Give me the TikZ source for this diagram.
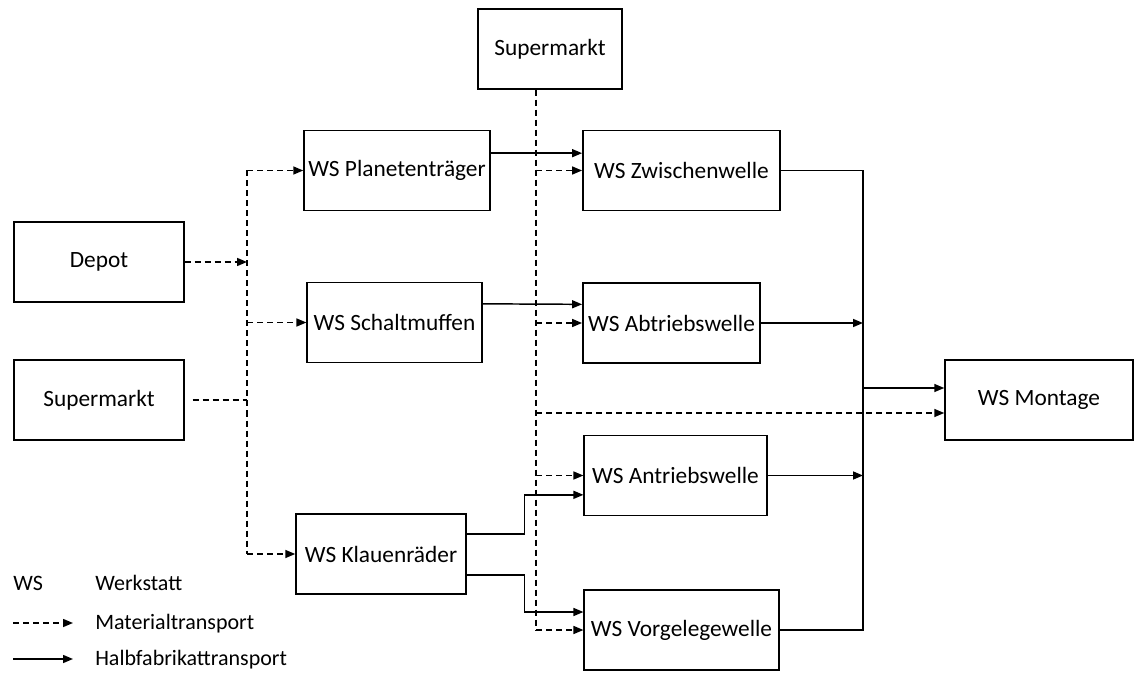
\documentclass[tikz,border=0pt]{standalone}
\usepackage{fontspec}
\setmainfont{Carlito}
\usetikzlibrary{arrows.meta,positioning}

\begin{document}
\begin{tikzpicture}[x=0.75pt, y=-0.75pt,
		box/.style={draw, line width=1.1pt, minimum height=60pt, inner sep=2pt, font=\fontsize{17.5}{20}\selectfont},
		legtext/.style={anchor=west, inner sep=0pt, font=\fontsize{16.5}{19}\selectfont},
		matline/.style={line width=1.1pt, dash pattern=on 4.5pt off 3pt},
		mat/.style={matline, -{Triangle[length=7.5pt,width=6pt]}},
		halfline/.style={line width=1.1pt},
		half/.style={halfline, -{Triangle[length=7.5pt,width=6pt]}}]
		\useasboundingbox (0,0) rectangle (1135,673);
		% Bereiche
		\node[box, minimum width=127.5pt] (depot) at (99,262) {Depot};
		\node[box, minimum width=127.5pt] (supl) at (99,400) {Supermarkt};
		\node[box, minimum width=108pt] (supt) at (550,49) {Supermarkt};
		% Werkstaetten
		\node[box, minimum width=139.5pt] (plan) at (397,170.5) {WS Planetenträger};
		\node[box, minimum width=131pt] (schalt) at (394.5,322.5) {WS Schaltmuffen};
		\node[box, minimum width=127.5pt] (klauen) at (381,554) {WS Klauenräder};
		\node[box, minimum width=148pt] (zwi) at (681.5,170.5) {WS Zwischenwelle};
		\node[box, minimum width=133pt] (abtr) at (671.5,323) {WS Abtriebswelle};
		\node[box, minimum width=137pt] (antr) at (675.5,475.5) {WS Antriebswelle};
		\node[box, minimum width=146pt] (vorg) at (681.5,630) {WS Vorgelegewelle};
		\node[box, minimum width=141pt] (mont) at (1039,400) {WS Montage};
		% Sammelschienen
		\coordinate (lb) at (247,0);
		\coordinate (mb) at (536,0);
		\coordinate (rb) at (863,0);
		% Materialtransport links
		\draw[mat] (depot.east) -- (depot.east -| lb);
		\draw[matline] ([xshift=6pt]supl.east) -- (supl.east -| lb);
		\draw[matline] (plan.west -| lb) -- (klauen.west -| lb);
		\draw[mat] (plan.west -| lb) -- (plan.west);
		\draw[mat] (schalt.west -| lb) -- (schalt.west);
		\draw[mat] (klauen.west -| lb) -- (klauen.west);
		% Materialtransport Mitte
		\draw[matline] (supt.south -| mb) -- (vorg.west -| mb);
		\draw[mat] (zwi.west -| mb) -- (zwi.west);
		\draw[mat] (abtr.west -| mb) -- (abtr.west);
		\draw[mat] (antr.west -| mb) -- (antr.west);
		\draw[mat] (vorg.west -| mb) -- (vorg.west);
		\draw[mat] ([yshift=-9.75pt]mont.west -| mb) -- ([yshift=-9.75pt]mont.west);
		% Halbfabrikattransport
		\draw[half] ([yshift=13pt]plan.east) -- ([yshift=13pt]zwi.west);
		\draw[half] ([yshift=14pt]schalt.east) -- ([yshift=14pt]abtr.west);
		\draw[half] ([yshift=15pt]klauen.east) -- ++(43.5pt,0) |- ([yshift=-14.5pt]antr.west);
		\draw[half] ([yshift=-15.75pt]klauen.east) -- ++(43.5pt,0) |- ([yshift=13.5pt]vorg.west);
		\draw[halfline] (zwi.east) -| (vorg.east -| rb) -- (vorg.east);
		\draw[half] (abtr.east) -- (abtr.east -| rb);
		\draw[half] (antr.east) -- (antr.east -| rb);
		\draw[half] ([yshift=9pt]mont.west -| rb) -- ([yshift=9pt]mont.west);
		% Legende
		\node[legtext] (ws) at (13,583) {WS};
		\node[legtext] (wst) at (95,583) {Werkstatt};
		\coordinate (m1) at (13,623);
		\coordinate (m2) at (73,623);
		\node[legtext] (mtext) at (95,624) {Materialtransport};
		\coordinate (h1) at (13,659);
		\coordinate (h2) at (73,659);
		\node[legtext] (htext) at (95,660) {Halbfabrikattransport};
		\draw[mat] (m1) -- (m2);
		\draw[half] (h1) -- (h2);
	\end{tikzpicture}
\end{document}
